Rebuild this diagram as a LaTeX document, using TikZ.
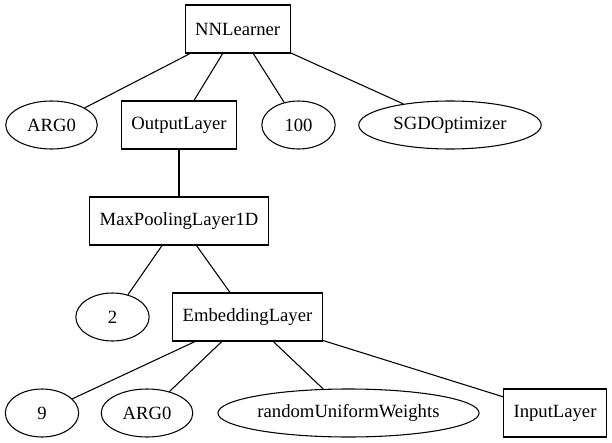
\documentclass[tikz,border=0pt]{standalone}
\usepackage{fontspec}
\setmainfont{Liberation Serif}
\usepackage{tikz}
\usetikzlibrary{shapes.geometric}

\begin{document}
\begin{tikzpicture}[x=0.75pt, y=-0.75pt, line width=0.8pt,
  every node/.style={draw=black, line width=0.8pt, font=\fontsize{14}{16}\selectfont},
  box/.style={rectangle, minimum height=36pt, inner xsep=7.5pt, inner ysep=0pt},
  oval/.style={ellipse, minimum height=36pt, minimum width=55pt, inner xsep=6pt, inner ysep=0pt}]
\useasboundingbox (0,0) rectangle (612,443);
\node[box] (nnl) at (237.7,29) {NNLearner};
\node[oval] (arga) at (51.5,125) {ARG0};
\node[box] (outl) at (179,125) {OutputLayer};
\node[oval] (hund) at (298.5,125) {100};
\node[oval] (sgd) at (450,125) {SGDOptimizer};
\node[box] (maxp) at (179,221) {MaxPoolingLayer1D};
\node[oval] (two) at (112.5,317) {2};
\node[box] (emb) at (247.5,317) {EmbeddingLayer};
\node[oval] (nine) at (42,413) {9};
\node[oval] (argb) at (147,413) {ARG0};
\node[oval, inner xsep=1pt] (rnd) at (348.5,413) {randomUniformWeights};
\node[box] (inl) at (555,413) {InputLayer};

\draw (nnl) -- (arga);
\draw (nnl) -- (outl);
\draw (nnl) -- (hund);
\draw (nnl) -- (sgd);
\draw (outl) -- (maxp);
\draw (maxp) -- (two);
\draw (maxp) -- (emb);
\draw (emb) -- (nine);
\draw (emb) -- (argb);
\draw (emb) -- (rnd);
\draw (emb) -- (inl);
\end{tikzpicture}
\end{document}
